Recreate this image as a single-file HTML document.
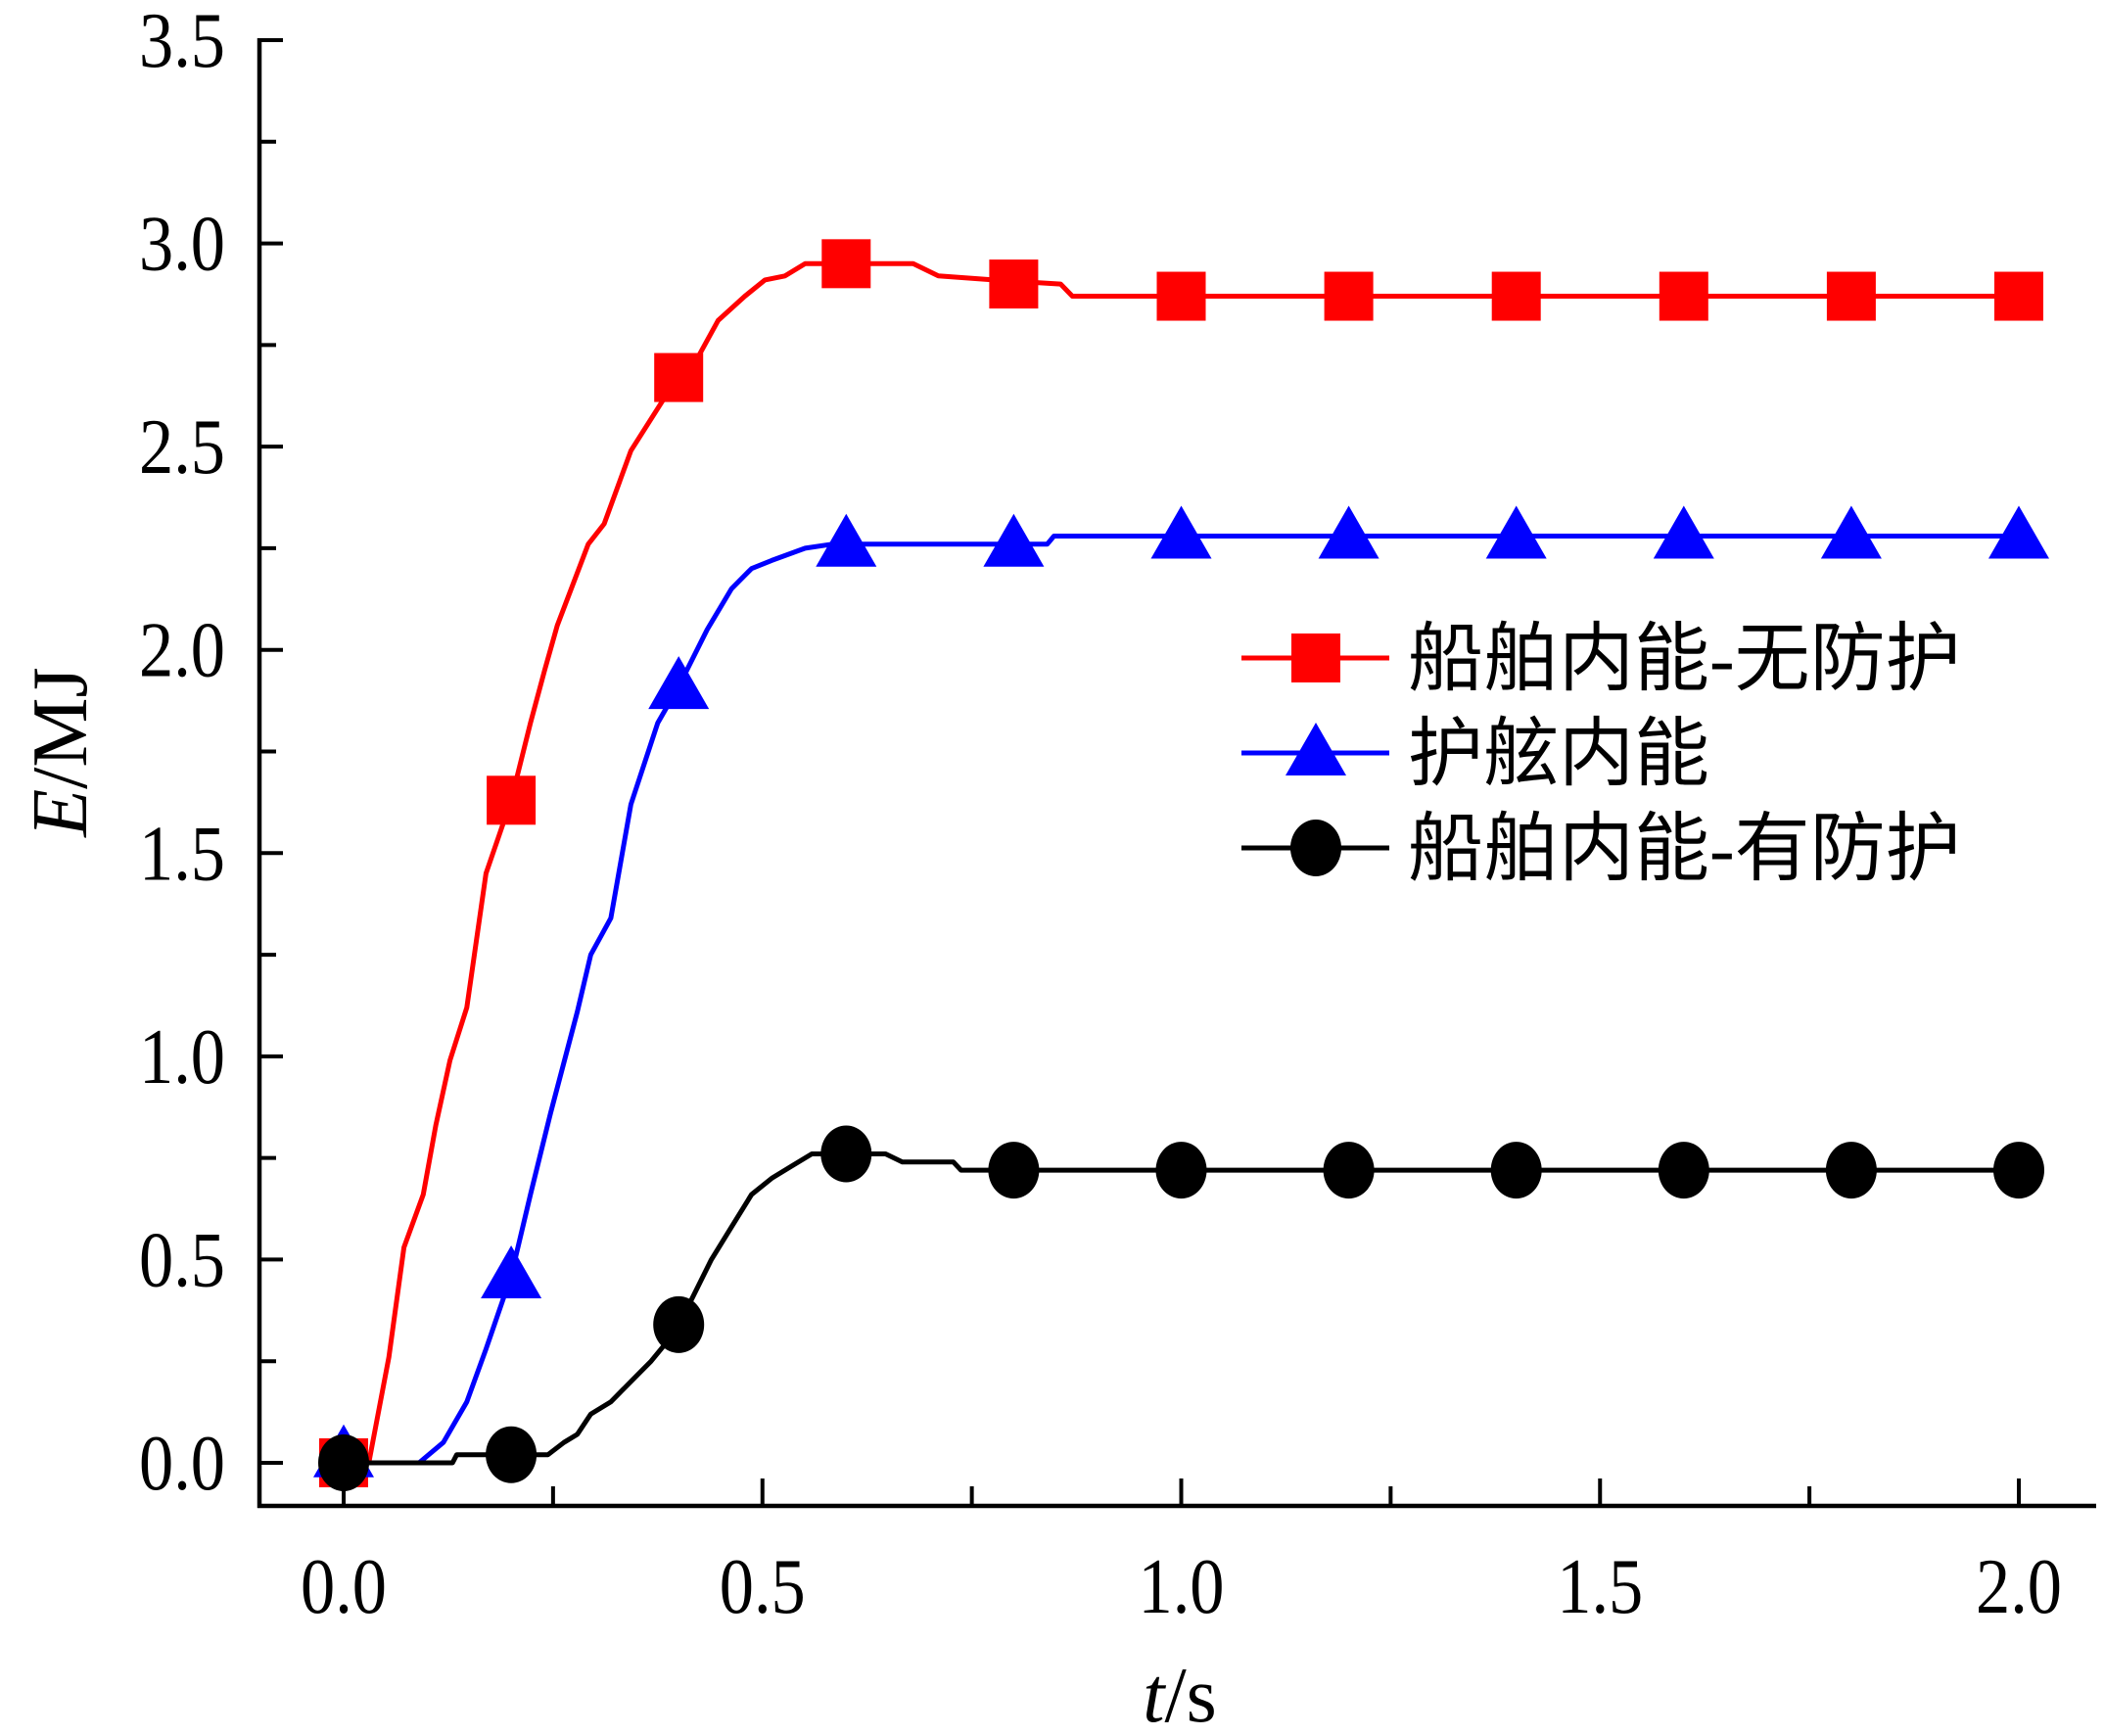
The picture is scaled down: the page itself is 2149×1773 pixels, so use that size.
<!DOCTYPE html>
<html><head><meta charset="utf-8"><style>
html,body{margin:0;padding:0;background:#fff;}
svg{display:block;}
text{font-family:"Liberation Serif","Noto Serif CJK SC",serif;fill:#000;}
.cjk{font-family:"Liberation Serif","Noto Sans CJK SC",sans-serif;}
</style></head><body>
<svg id="chart" width="2149" height="1773" viewBox="0 0 2149 1773" xmlns="http://www.w3.org/2000/svg">
<g id="axes"></g>
<g id="series"></g>
<g id="legend"></g>
</svg>
<script>
const xTicks = [0.0, 0.5, 1.0, 1.5, 2.0];
const xTickLabels = ["0.0", "0.5", "1.0", "1.5", "2.0"];
const yTicks = [0.0, 0.5, 1.0, 1.5, 2.0, 2.5, 3.0, 3.5];
const yTickLabels = ["0.0", "0.5", "1.0", "1.5", "2.0", "2.5", "3.0", "3.5"];
const redT = [0, 0.03, 0.054, 0.072, 0.095, 0.11, 0.127, 0.147, 0.17, 0.2, 0.223, 0.24, 0.255, 0.292, 0.311, 0.343, 0.383, 0.4, 0.423, 0.447, 0.479, 0.503, 0.527, 0.551, 0.583, 0.68, 0.71, 0.776, 0.856, 0.87, 2.0];
const redE = [0, 0, 0.26, 0.53, 0.66, 0.83, 0.99, 1.12, 1.45, 1.63, 1.82, 1.95, 2.06, 2.26, 2.31, 2.49, 2.62, 2.66, 2.72, 2.81, 2.87, 2.91, 2.92, 2.95, 2.95, 2.95, 2.92, 2.91, 2.90, 2.87, 2.87];
const blueT = [0, 0.09, 0.119, 0.147, 0.17, 0.2, 0.223, 0.247, 0.279, 0.295, 0.319, 0.343, 0.375, 0.4, 0.434, 0.463, 0.487, 0.511, 0.551, 0.583, 0.84, 0.848, 2.0];
const blueE = [0, 0, 0.05, 0.15, 0.28, 0.46, 0.66, 0.86, 1.11, 1.25, 1.34, 1.62, 1.82, 1.91, 2.05, 2.15, 2.20, 2.22, 2.25, 2.26, 2.26, 2.28, 2.28];
const blackT = [0, 0.13, 0.135, 0.244, 0.263, 0.279, 0.295, 0.319, 0.343, 0.367, 0.391, 0.415, 0.439, 0.463, 0.487, 0.511, 0.535, 0.559, 0.647, 0.667, 0.728, 0.737, 2.0];
const blackE = [0, 0, 0.02, 0.02, 0.05, 0.07, 0.12, 0.15, 0.20, 0.25, 0.31, 0.40, 0.50, 0.58, 0.66, 0.70, 0.73, 0.76, 0.76, 0.74, 0.74, 0.72, 0.72];
const markT = [0, 0.2, 0.4, 0.6, 0.8, 1.0, 1.2, 1.4, 1.6, 1.8, 2.0];
const redMarkE = [0, 1.63, 2.67, 2.95, 2.90, 2.87, 2.87, 2.87, 2.87, 2.87, 2.87];
const blueMarkE = [0.02, 0.46, 1.91, 2.26, 2.26, 2.28, 2.28, 2.28, 2.28, 2.28, 2.28];
const blackMarkE = [0, 0.02, 0.34, 0.76, 0.72, 0.72, 0.72, 0.72, 0.72, 0.72, 0.72];
const legendLabels = ["船舶内能-无防护", "护舷内能", "船舶内能-有防护"];

const NS = "http://www.w3.org/2000/svg";
const X0 = 351, X1 = 2062, Y0 = 1494, Y1 = 41;
const xs = t => X0 + (X1 - X0) * t / 2.0;
const ys = e => Y0 - (Y0 - Y1) * e / 3.5;
function mk(tag, attrs, parent) {
  const el = document.createElementNS(NS, tag);
  for (const k in attrs) el.setAttribute(k, attrs[k]);
  parent.appendChild(el);
  return el;
}
const axes = document.getElementById('axes');
const AX = 265, AY = 1538;
let el = mk('line', {x1: AX, y1: 39, x2: AX, y2: AY + 2, stroke: '#000', 'stroke-width': 4.5}, axes);


el = mk('line', {x1: AX - 2, y1: AY, x2: 2141, y2: AY, stroke: '#000', 'stroke-width': 4.5}, axes);


for (let v = 0; v <= 2.0001; v += 0.25) {
  const major = Math.abs(v * 2 - Math.round(v * 2)) < 1e-6;
  el = mk('line', {x1: xs(v), y1: AY, x2: xs(v), y2: AY - (major ? 28 : 20), stroke: '#000', 'stroke-width': 4}, axes);
  
  
}
for (let v = 0; v <= 3.5001; v += 0.25) {
  const major = Math.abs(v * 2 - Math.round(v * 2)) < 1e-6;
  el = mk('line', {x1: AX, y1: ys(v), x2: AX + (major ? 24 : 17), y2: ys(v), stroke: '#000', 'stroke-width': 4}, axes);
  
  
}
xTicks.forEach((v, i) => {
  const t = mk('text', {x: 0, y: 0, 'font-size': 80, 'text-anchor': 'middle', transform: `translate(${xs(v)},1647) scale(0.88,1)`}, axes);
  t.textContent = xTickLabels[i];
  
  
});
yTicks.forEach((v, i) => {
  const t = mk('text', {x: 0, y: 0, 'font-size': 80, 'text-anchor': 'end', transform: `translate(230,${ys(v) + 27}) scale(0.88,1)`}, axes);
  t.textContent = yTickLabels[i];
  
  
});
let xt = mk('text', {x: 1205, y: 1758, 'font-size': 80, 'text-anchor': 'middle'}, axes);
xt.innerHTML = '<tspan font-style="italic">t</tspan>/s';


let yt = mk('text', {x: 0, y: 0, 'font-size': 80, 'text-anchor': 'middle', transform: 'translate(88,768) rotate(-90)'}, axes);
yt.innerHTML = '<tspan font-style="italic">E</tspan>/MJ';



const series = document.getElementById('series');
function marker(type, cx, cy, color, parent) {
  let m;
  if (type === 'square') m = mk('rect', {x: cx - 25, y: cy - 25, width: 50, height: 50, fill: color}, parent);
  else if (type === 'tri') m = mk('polygon', {points: `${cx},${cy - 31} ${cx - 31},${cy + 23} ${cx + 31},${cy + 23}`, fill: color}, parent);
  else m = mk('ellipse', {cx: cx, cy: cy, rx: 26, ry: 29, fill: color}, parent);
  return m;
}
function drawSeries(T, E, ME, color, type, name) {
  const g = mk('g', {}, series);
  
  
  const pts = T.map((t, i) => xs(t).toFixed(1) + ',' + ys(E[i]).toFixed(1)).join(' ');
  const pl = mk('polyline', {points: pts, fill: 'none', stroke: color, 'stroke-width': 5, 'stroke-linejoin': 'round'}, g);
  
  
  markT.forEach((t, i) => {
    const m = marker(type, xs(t), ys(ME[i]), color, g);
    
    
  });
}
drawSeries(redT, redE, redMarkE, '#ff0000', 'square', 'series-ship-unprotected');
drawSeries(blueT, blueE, blueMarkE, '#0000ff', 'tri', 'series-fender');
drawSeries(blackT, blackE, blackMarkE, '#000000', 'circle', 'series-ship-protected');

const legend = document.getElementById('legend');
const colors = ['#ff0000', '#0000ff', '#000000'];
const types = ['square', 'tri', 'circle'];
const rowY = [672, 769, 866];
legendLabels.forEach((lab, i) => {
  const g = mk('g', {}, legend);
  
  
  mk('line', {x1: 1268, y1: rowY[i], x2: 1419, y2: rowY[i], stroke: colors[i], 'stroke-width': 5}, g);
  marker(types[i], 1344, rowY[i], colors[i], g);
  const t = mk('text', {x: 1438, y: rowY[i] + 27, 'font-size': 77, class: 'cjk'}, g);
  t.textContent = lab;
  
  
});
</script>
</body></html>
